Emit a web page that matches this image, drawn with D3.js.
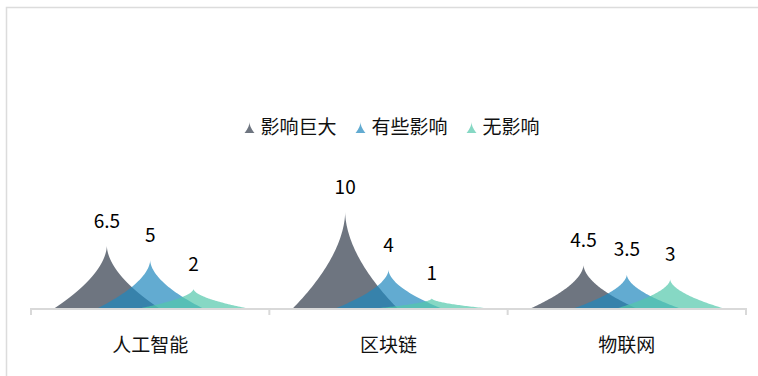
<!DOCTYPE html>
<html lang="zh">
<head>
<meta charset="utf-8">
<title>影响程度</title>
<script src="https://cdnjs.cloudflare.com/ajax/libs/d3/7.8.5/d3.min.js"></script>
<style>
  body { margin: 0; background: #fff; }
  svg { display: block; font-family: "Noto Sans CJK SC", "Noto Sans", sans-serif; }
</style>
</head>
<body>
<svg id="chart" width="758" height="376"></svg>
<script>
// data
const categories = ["人工智能", "区块链", "物联网"];
const seriesNames = ["影响巨大", "有些影响", "无影响"];
const bigImpact = [6.5, 10, 4.5];
const someImpact = [5, 4, 3.5];
const noImpact = [2, 1, 3];
const colors = ["#303a4a", "#1f88bd", "#52c8ab"];

const series = [bigImpact, someImpact, noImpact];

const svg = d3.select("#chart");

// frame (only left and top edges fall inside the window)
svg.append("rect")
  .attr("x", 6.5).attr("y", 7.5)
  .attr("width", 800).attr("height", 400)
  .attr("fill", "none").attr("stroke", "#dcdcdc").attr("stroke-width", 1.5);

const x = d3.scaleBand().domain(categories).range([31, 746]);
const xs = d3.scaleBand().domain(seriesNames).range([-65, 65]);
const y = d3.scaleLinear().domain([0, 10]).range([308, 212]);
const halfW = 52;
const sharp = 1.8; // how concave the spike sides are

// concave spike shape
function spikePts(w, h, n) {
  const pts = [];
  for (let i = 0; i <= n; i++) {
    const f = i / n;
    pts.push([-w * Math.pow(1 - f, sharp), -f * h]);
  }
  for (let i = n - 1; i >= 0; i--) {
    const f = i / n;
    pts.push([w * Math.pow(1 - f, sharp), -f * h]);
  }
  return pts;
}
function spike(cx, v) {
  const pts = spikePts(halfW, y(0) - y(v), 50).map(p => [cx + p[0], y(0) + p[1]]);
  return d3.line()(pts) + "Z";
}
const cx = (si, i) => x(categories[i]) + x.bandwidth() / 2 + xs(seriesNames[si]) + xs.bandwidth() / 2;

// axis line + boundary ticks
const axis = svg.append("g");
axis.append("line")
  .attr("x1", x.range()[0]).attr("x2", x.range()[1])
  .attr("y1", y(0) + 1).attr("y2", y(0) + 1)
  .attr("stroke", "#d9d9d9").attr("stroke-width", 2);
const bounds = categories.map(c => x(c)).concat([x.range()[1]]);
axis.selectAll(".tick")
  .data(bounds).enter()
  .append("line")
  .attr("x1", d => d).attr("x2", d => d)
  .attr("y1", y(0)).attr("y2", y(0) + 7)
  .attr("stroke", "#d9d9d9").attr("stroke-width", 2);

axis.selectAll(".cat")
  .data(categories).enter()
  .append("text")
  .attr("x", d => x(d) + x.bandwidth() / 2)
  .attr("y", 352)
  .attr("text-anchor", "middle")
  .attr("font-size", 19)
  .attr("fill", "#111")
  .text(d => d);

// spikes
series.forEach((vals, si) => {
  svg.append("g").selectAll("path")
    .data(vals).enter()
    .append("path")
    .attr("d", (v, i) => spike(cx(si, i), v))
    .attr("fill", colors[si])
    .attr("fill-opacity", 0.7);
});

// value labels
series.forEach((vals, si) => {
  svg.append("g").selectAll("text")
    .data(vals).enter()
    .append("text")
    .attr("x", (v, i) => cx(si, i))
    .attr("y", v => y(v) - 18)
    .attr("text-anchor", "middle")
    .attr("font-size", 19)
    .attr("fill", "#000")
    .text(v => v);
});

// legend
const legend = svg.append("g");
let lx = 0;
const gap = 19;
seriesNames.forEach((name, i) => {
  const item = legend.append("g").attr("transform", `translate(${lx},0)`);
  item.append("path")
    .attr("d", d3.line()(spikePts(5, 11, 10)) + "Z")
    .attr("transform", "translate(5,133)")
    .attr("fill", colors[i]).attr("fill-opacity", 0.7);
  const t = item.append("text")
    .attr("x", 16).attr("y", 134)
    .attr("font-size", 19)
    .attr("fill", "#111")
    .text(name);
  lx += 16 + t.node().getComputedTextLength() + gap;
});
const lw = lx - gap;
legend.attr("transform", `translate(${392 - lw / 2},0)`);
</script>
</body>
</html>
